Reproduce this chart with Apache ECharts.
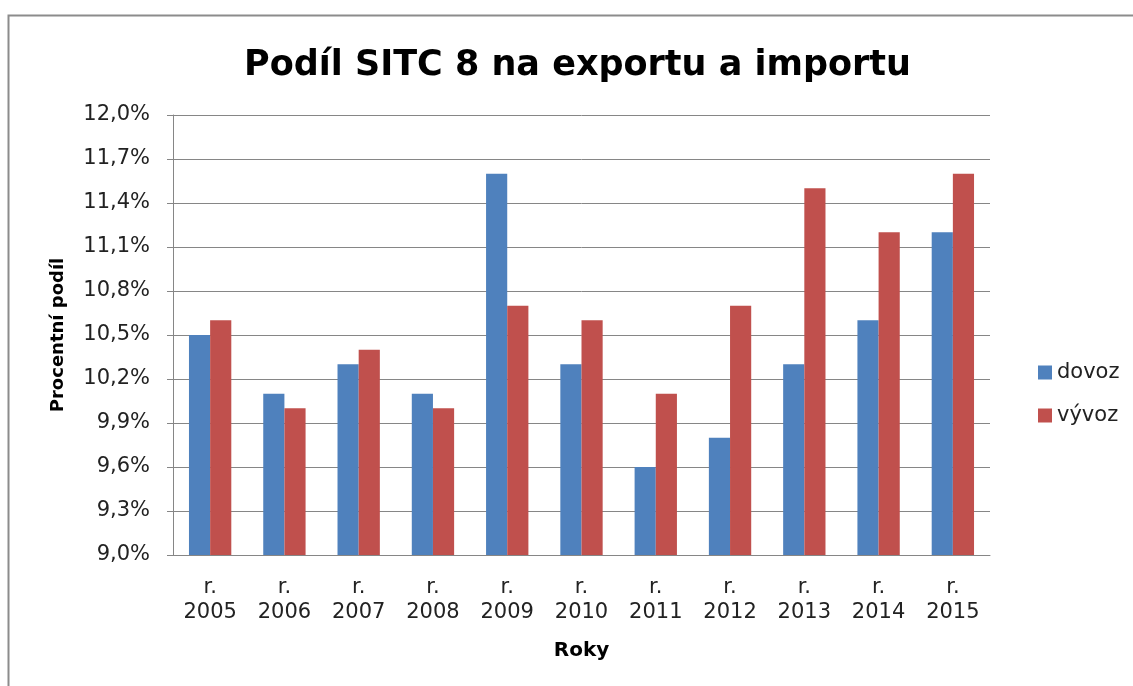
<!DOCTYPE html>
<html>
<head>
<meta charset="utf-8">
<script src="https://cdn.jsdelivr.net/npm/echarts@6/dist/echarts.min.js"></script>
<style>
  html, body { margin: 0; padding: 0; background: #fff; }
  #chart { width: 1133px; height: 686px; }
</style>
</head>
<body>
<div id="chart"></div>
<script>
var years = ['2005', '2006', '2007', '2008', '2009', '2010', '2011', '2012', '2013', '2014', '2015'];
var dovoz = [10.5, 10.1, 10.3, 10.1, 11.6, 10.3, 9.6, 9.8, 10.3, 10.6, 11.2];
var vyvoz = [10.6, 10.0, 10.4, 10.0, 10.7, 10.6, 10.1, 10.7, 11.5, 11.2, 11.6];

var font = '"DejaVu Sans", sans-serif';
var chart = echarts.init(document.getElementById('chart'));

var option = {
    animation: false,
    textStyle: { fontFamily: font },
    graphic: [{
        type: 'rect',
        shape: { x: 8.5, y: 15.5, width: 1200, height: 800 },
        style: { fill: 'none', stroke: '#8c8c8c', lineWidth: 2 }
    }],
    title: {
        text: 'Podíl SITC 8 na exportu a importu',
        left: 239,
        top: 43,
        textStyle: { fontSize: 35, fontWeight: 'bold', color: '#000', fontFamily: font }
    },
    legend: {
        orient: 'vertical',
        left: 1033,
        top: 357,
        itemWidth: 14,
        itemHeight: 14,
        itemGap: 22,
        icon: 'rect',
        textStyle: { fontSize: 21, color: '#222', fontFamily: font },
        data: ['dovoz', 'vývoz']
    },
    grid: { left: 173, right: 143, top: 115, bottom: 131 },
    xAxis: {
        type: 'category',
        data: years.map(function (y) { return 'r.\n' + y; }),
        name: 'Roky',
        nameLocation: 'middle',
        nameGap: 86,
        nameTextStyle: { fontSize: 20, fontWeight: 'bold', color: '#000', fontFamily: font },
        axisLine: { lineStyle: { color: '#868686' } },
        axisTick: { show: false },
        axisLabel: { fontSize: 21, color: '#222', margin: 20, lineHeight: 25, fontFamily: font }
    },
    yAxis: {
        type: 'value',
        min: 9.0,
        max: 12.0,
        interval: 0.3,
        name: 'Procentní podíl',
        nameLocation: 'middle',
        nameGap: 106,
        nameTextStyle: { fontSize: 18, fontWeight: 'bold', color: '#000', fontFamily: font },
        axisLine: { show: true, lineStyle: { color: '#868686' } },
        axisTick: { show: true, length: 6, lineStyle: { color: '#868686' } },
        splitLine: { lineStyle: { color: '#868686' } },
        axisLabel: {
            fontSize: 21, color: '#222', margin: 23, fontFamily: font,
            formatter: function (v) { return v.toFixed(1).replace('.', ',') + '%'; }
        }
    },
    series: [
        {
            name: 'dovoz',
            type: 'bar',
            data: dovoz,
            barGap: '0%',
            barCategoryGap: '43%',
            itemStyle: { color: '#4F81BD' }
        },
        {
            name: 'vývoz',
            type: 'bar',
            data: vyvoz,
            itemStyle: { color: '#C0504D' }
        }
    ]
};
chart.setOption(option);
</script>
</body>
</html>
